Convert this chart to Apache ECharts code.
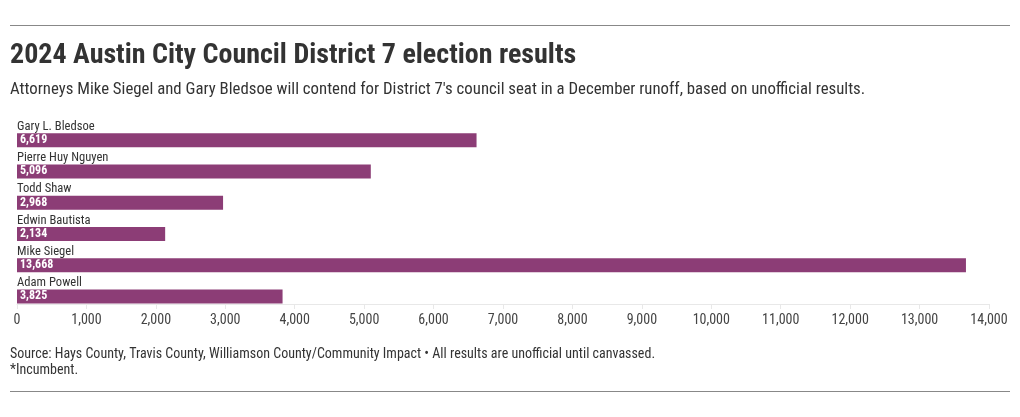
<!DOCTYPE html>
<html><head><meta charset="utf-8">
<script src="https://cdn.jsdelivr.net/npm/echarts@6/dist/echarts.min.js"></script>
<style>html,body{margin:0;padding:0;background:#fff}#c{width:1020px;height:417px}</style>
</head><body><div id="c"></div>
<script>
const candidates = ["Gary L. Bledsoe","Pierre Huy Nguyen","Todd Shaw","Edwin Bautista","Mike Siegel","Adam Powell"];
const votes = [6619,5096,2968,2134,13668,3825];
const xTicks = {min:0,max:14000,interval:1000};
const titleText = "2024 Austin City Council District 7 election results";
const subText = "Attorneys Mike Siegel and Gary Bledsoe will contend for District 7's council seat in a December runoff, based on unofficial results.";
const sourceText = "Source: Hays County, Travis County, Williamson County/Community Impact • All results are unofficial until canvassed.";
const noteText = "*Incumbent.";

const FF = '"Roboto Condensed","Liberation Sans Narrow","DejaVu Sans Condensed",Roboto,sans-serif';
const fmt = v => v.toLocaleString('en-US');
const chart = echarts.init(document.getElementById('c'), null, {renderer:'canvas'});
chart.setOption({
  animation:false,
  textStyle:{fontFamily:FF},
  title:[
    {text:titleText,left:10,top:42,padding:0,textStyle:{fontFamily:FF,fontSize:28,fontWeight:'bold',color:'#333'}},
    {text:subText,left:10,top:81,padding:0,textStyle:{fontFamily:FF,fontSize:16.8,fontWeight:'normal',color:'#333'}},
    {text:sourceText+"\n"+noteText,left:10,top:346,padding:0,textStyle:{fontFamily:FF,fontSize:14,fontWeight:'normal',color:'#333',lineHeight:16}}
  ],
  graphic:[
    {type:'line',shape:{x1:10,y1:25.5,x2:1010,y2:25.5},style:{stroke:'#888',lineWidth:1}},
    {type:'line',shape:{x1:10,y1:391.5,x2:1010,y2:391.5},style:{stroke:'#888',lineWidth:1}}
  ],
  grid:{left:17,right:31,top:124.5,bottom:417-312,containLabel:false},
  xAxis:{type:'value',min:xTicks.min,max:xTicks.max,interval:xTicks.interval,offset:-8,
    axisLine:{show:true,lineStyle:{color:'#e8e8e8'}},
    axisTick:{show:true,length:5,lineStyle:{color:'#e8e8e8'}},
    splitLine:{show:false},
    axisLabel:{fontFamily:FF,fontSize:14,color:'#444',margin:9,formatter:v=>fmt(v)}},
  yAxis:{type:'category',data:candidates,inverse:true,
    axisLine:{show:false},axisTick:{show:false},
    axisLabel:{inside:true,margin:0,align:'left',verticalAlign:'bottom',padding:[0,0,7,0],fontFamily:FF,fontSize:12.6,color:'#333'}},
  series:[{type:'bar',data:votes,barWidth:14,
    itemStyle:{color:'#8c3d76'},
    label:{show:true,position:'insideLeft',distance:3,color:'#fff',fontFamily:FF,fontSize:12,fontWeight:'bold',formatter:p=>fmt(p.value)}}]
});
</script></body></html>
